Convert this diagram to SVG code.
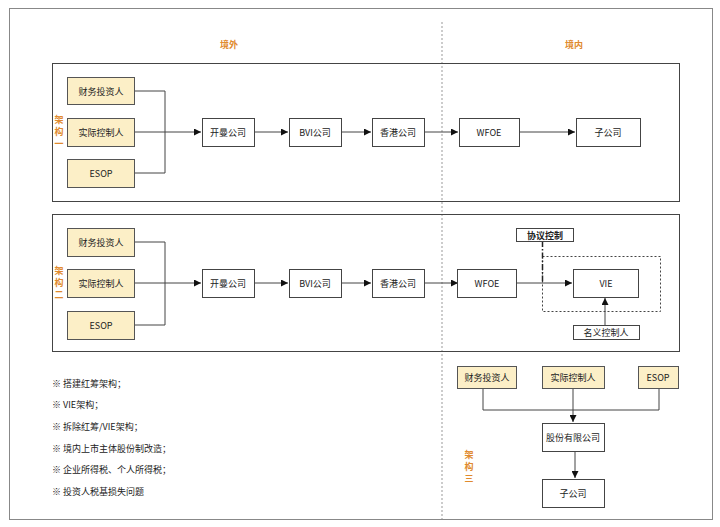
<svg xmlns="http://www.w3.org/2000/svg" width="720" height="527" viewBox="0 0 720 527">
<defs>
<marker id="ah" viewBox="0 0 10 10" refX="10" refY="5" markerWidth="7" markerHeight="7" markerUnits="userSpaceOnUse" orient="auto">
<path d="M0,0 L10,5 L0,10 z" fill="#111"/>
</marker>
<style>
text{font-family:"Noto Sans CJK SC","Liberation Sans",sans-serif;font-size:9px;fill:#222;text-anchor:middle;dominant-baseline:central}
.n rect{fill:#fff;stroke:#444;stroke-width:1}
.y rect{fill:#fcefc7;stroke:#555;stroke-width:1}
.c{fill:none;stroke:#444;stroke-width:1}
.o{fill:#e08a2e;font-weight:bold}
.v{writing-mode:vertical-rl;letter-spacing:3px;text-anchor:start;dominant-baseline:auto}
.b{text-anchor:start}
.frame{fill:none;stroke:#444;stroke-width:1}
</style>
</defs>
<rect width="720" height="527" fill="#fff"/>
<rect x="9.5" y="8.5" width="703" height="511" fill="none" stroke="#888" stroke-width="1"/>
<line x1="442" y1="22" x2="442" y2="519" stroke="#999" stroke-width="1" stroke-dasharray="2,2"/>
<text class="o" x="229" y="44" font-size="10">境外</text>
<text class="o" x="574" y="44" font-size="10">境内</text>
<rect class="frame" x="52.5" y="63.5" width="627" height="138"/>
<rect class="frame" x="52.5" y="214.5" width="627" height="137"/>
<text class="o v" x="59" y="115">架构一</text>
<text class="o v" x="59" y="266">架构二</text>
<text class="o v" x="469" y="450">架构三</text>
<g id="connectors">
<path class="c" d="M134,91 H165 V173 H134"/>
<path class="c" d="M134,132 H201" marker-end="url(#ah)"/>
<path class="c" d="M254,132 H288" marker-end="url(#ah)"/>
<path class="c" d="M341,132 H371" marker-end="url(#ah)"/>
<path class="c" d="M424,132 H458" marker-end="url(#ah)"/>
<path class="c" d="M519,132 H575" marker-end="url(#ah)"/>
<path class="c" d="M134,242 H165 V325 H134"/>
<path class="c" d="M134,283 H201" marker-end="url(#ah)"/>
<path class="c" d="M254,283 H288" marker-end="url(#ah)"/>
<path class="c" d="M341,283 H371" marker-end="url(#ah)"/>
<path class="c" d="M424,283 H458" marker-end="url(#ah)"/>
<path class="c" d="M516,283 H572" marker-end="url(#ah)"/>
<path class="c" d="M605,326 V298" marker-end="url(#ah)"/>
<rect x="542.5" y="256.5" width="118" height="55" fill="none" stroke="#444" stroke-width="1" stroke-dasharray="2,2"/>
<path d="M542.5,241 V283" fill="none" stroke="#222" stroke-width="1.5" stroke-dasharray="6,2,1.5,2"/>
<path class="c" d="M483,388 V410 H659 V388"/>
<path class="c" d="M573,388 V422" marker-end="url(#ah)"/>
<path class="c" d="M575,451 V478" marker-end="url(#ah)"/>
</g>
<g id="r1-caiwu" class="y"><rect x="67.5" y="77.5" width="67" height="27"/><text x="101" y="91">财务投资人</text></g>
<g id="r1-shiji" class="y"><rect x="67.5" y="118.5" width="67" height="28"/><text x="101" y="132">实际控制人</text></g>
<g id="r1-esop" class="y"><rect x="67.5" y="159.5" width="67" height="28"/><text x="101" y="173">ESOP</text></g>
<g id="r1-kaiman" class="n"><rect x="202.5" y="118.5" width="52" height="28"/><text x="228" y="132">开曼公司</text></g>
<g id="r1-bvi" class="n"><rect x="289.5" y="118.5" width="52" height="28"/><text x="315" y="132">BVI公司</text></g>
<g id="r1-hk" class="n"><rect x="372.5" y="118.5" width="52" height="28"/><text x="398" y="132">香港公司</text></g>
<g id="r1-wfoe" class="n"><rect x="459.5" y="118.5" width="60" height="28"/><text x="489" y="132">WFOE</text></g>
<g id="r1-sub" class="n"><rect x="576.5" y="118.5" width="64" height="28"/><text x="608" y="132">子公司</text></g>
<g id="r2-caiwu" class="y"><rect x="67.5" y="228.5" width="67" height="28"/><text x="101" y="242">财务投资人</text></g>
<g id="r2-shiji" class="y"><rect x="67.5" y="269.5" width="67" height="28"/><text x="101" y="283">实际控制人</text></g>
<g id="r2-esop" class="y"><rect x="67.5" y="311.5" width="67" height="28"/><text x="101" y="325">ESOP</text></g>
<g id="r2-kaiman" class="n"><rect x="202.5" y="269.5" width="52" height="28"/><text x="228" y="283">开曼公司</text></g>
<g id="r2-bvi" class="n"><rect x="289.5" y="269.5" width="52" height="28"/><text x="315" y="283">BVI公司</text></g>
<g id="r2-hk" class="n"><rect x="372.5" y="269.5" width="52" height="28"/><text x="398" y="283">香港公司</text></g>
<g id="r2-wfoe" class="n"><rect x="457.5" y="269.5" width="59" height="28"/><text x="487" y="283">WFOE</text></g>
<g id="r2-vie" class="n"><rect x="573.5" y="269.5" width="65" height="28"/><text x="606" y="283">VIE</text></g>
<g id="r2-xieyi" class="n"><rect x="516.5" y="228.5" width="57" height="13"/><text x="545" y="235" font-weight="bold">协议控制</text></g>
<g id="r2-mingyi" class="n"><rect x="573.5" y="325.5" width="66" height="14"/><text x="606" y="332.5">名义控制人</text></g>
<g id="r3-caiwu" class="y"><rect x="457.5" y="366.5" width="59" height="22"/><text x="487" y="377">财务投资人</text></g>
<g id="r3-shiji" class="y"><rect x="542.5" y="366.5" width="62" height="22"/><text x="573" y="377">实际控制人</text></g>
<g id="r3-esop" class="y"><rect x="638.5" y="366.5" width="40" height="22"/><text x="658" y="377">ESOP</text></g>
<g id="r3-gufen" class="n"><rect x="542.5" y="423.5" width="62" height="28"/><text x="573" y="437">股份有限公司</text></g>
<g id="r3-sub" class="n"><rect x="542.5" y="479.5" width="62" height="28"/><text x="573" y="493">子公司</text></g>
<g id="notes">
<text class="b" x="52" y="383">※  搭建红筹架构；</text>
<text class="b" x="52" y="404">※  VIE架构；</text>
<text class="b" x="52" y="426">※  拆除红筹/VIE架构；</text>
<text class="b" x="52" y="448">※  境内上市主体股份制改造；</text>
<text class="b" x="52" y="469">※  企业所得税、个人所得税；</text>
<text class="b" x="52" y="491">※  投资人税基损失问题</text>
</g>
</svg>
